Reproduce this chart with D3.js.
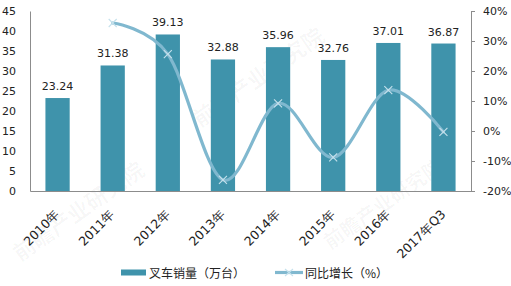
<!DOCTYPE html>
<html>
<head>
<meta charset="utf-8">
<script src="https://cdn.jsdelivr.net/npm/d3@7"></script>
<style>
  html, body { margin: 0; padding: 0; background: #fff; }
  svg { display: block; }
</style>
</head>
<body>
<svg id="chart" width="511" height="286"></svg>
<script>
const categories = ["2010年", "2011年", "2012年", "2013年", "2014年", "2015年", "2016年", "2017年Q3"];
const sales = [23.24, 31.38, 39.13, 32.88, 35.96, 32.76, 37.01, 36.87];
const growth = [null, 36.0, 25.6, -16.3, 9.2, -8.8, 13.6, -0.3];
const leftTicks = [0, 5, 10, 15, 20, 25, 30, 35, 40, 45];
const rightTicks = [-20, -10, 0, 10, 20, 30, 40];
const legendLabels = ["叉车销量（万台）", "同比增长（%）"];
const watermark = "前瞻产业研究院";

(function () {
const barColor = "#3f93ab";
const lineColor = "#80b8cf";
const markColor = "#c6e1ec";
const axisColor = "#8c8c8c";
const textColor = "#222";
const numFont = "'DejaVu Sans', Verdana, sans-serif";
const cjkFont = "'Noto Sans CJK SC', 'DejaVu Sans', sans-serif";

const svg = d3.select("#chart");
const pL = 30, pR = 471, pT = 11, pB = 191;

// faint watermark
const wm = [[200, 128, 22], [20, 262, 22], [330, 250, 20]];
svg.append("g").selectAll("text").data(wm).join("text")
  .attr("transform", d => `translate(${d[0]},${d[1]}) rotate(-35)`)
  .attr("font-family", cjkFont).attr("font-size", d => d[2]).attr("font-weight", "bold")
  .attr("fill", "#000").attr("fill-opacity", 0.035)
  .text(watermark);

const x = d3.scaleBand().domain(categories).range([pL, pR]).padding(0);
const yL = d3.scaleLinear().domain([0, 45]).range([pB, pT]);
const yR = d3.scaleLinear().domain([-20, 40]).range([pB, pT]);
const barW = x.bandwidth() * 0.44;

// bars
svg.append("g").selectAll("rect").data(categories).join("rect")
  .attr("x", d => x(d) + x.bandwidth() / 2 - barW / 2)
  .attr("y", (d, i) => yL(sales[i]))
  .attr("width", barW)
  .attr("height", (d, i) => yL(0) - yL(sales[i]))
  .attr("fill", barColor);

// value labels
svg.append("g").selectAll("text").data(categories).join("text")
  .attr("x", d => x(d) + x.bandwidth() / 2)
  .attr("y", (d, i) => yL(sales[i]) - 8)
  .attr("text-anchor", "middle")
  .attr("font-family", numFont).attr("font-size", 11).attr("fill", textColor)
  .text((d, i) => sales[i].toFixed(2));

// left axis
const gL = svg.append("g").attr("transform", `translate(${pL},0)`)
  .call(d3.axisLeft(yL).tickValues(leftTicks).tickSize(0).tickPadding(14));
gL.select(".domain").attr("stroke", axisColor);
gL.selectAll("text").attr("font-family", numFont).attr("font-size", 11).attr("fill", textColor);

// right axis
const gR = svg.append("g").attr("transform", `translate(${pR},0)`)
  .call(d3.axisRight(yR).tickValues(rightTicks).tickSize(4).tickSizeOuter(4).tickPadding(8).tickFormat(d => d + "%"));
gR.select(".domain").attr("stroke", axisColor);
gR.selectAll("line").attr("stroke", axisColor);
gR.selectAll("text").attr("font-family", numFont).attr("font-size", 11).attr("fill", textColor);

// bottom axis
const gB = svg.append("g").attr("transform", `translate(0,${pB})`)
  .call(d3.axisBottom(x).tickSize(0).tickSizeOuter(0).tickPadding(0));
gB.select(".domain").attr("stroke", axisColor);
gB.selectAll("text")
  .attr("font-family", numFont).attr("font-size", 12.5).attr("fill", textColor)
  .attr("text-anchor", "end")
  .attr("dy", 0).attr("y", 0)
  .attr("transform", "translate(3,24) rotate(-45)");

// growth line
const pts = categories.map((c, i) => [x(c) + x.bandwidth() / 2, growth[i]]).filter(p => p[1] !== null);
const line = d3.line().x(d => d[0]).y(d => yR(d[1])).curve(d3.curveCardinal.tension(0));
svg.append("path").datum(pts)
  .attr("d", line)
  .attr("fill", "none").attr("stroke", lineColor).attr("stroke-width", 3.2)
  .attr("stroke-linecap", "round");

// x markers
const m = 4;
svg.append("g").selectAll("path").data(pts).join("path")
  .attr("d", d => { const cx = d[0], cy = yR(d[1]); return `M${cx - m},${cy - m}L${cx + m},${cy + m}M${cx - m},${cy + m}L${cx + m},${cy - m}`; })
  .attr("stroke", markColor).attr("stroke-width", 1.1).attr("fill", "none");

// legend
const lg = svg.append("g");
lg.append("rect").attr("x", 121).attr("y", 269.5).attr("width", 25).attr("height", 6).attr("fill", barColor);
lg.append("text").attr("x", 149).attr("y", 277.5)
  .attr("font-family", cjkFont).attr("font-size", 12).attr("fill", textColor).text(legendLabels[0]);
lg.append("line").attr("x1", 275).attr("x2", 303).attr("y1", 272.5).attr("y2", 272.5)
  .attr("stroke", lineColor).attr("stroke-width", 3.2);
lg.append("path").attr("d", "M285,269L293,276M285,276L293,269").attr("stroke", markColor).attr("stroke-width", 1.1);
lg.append("text").attr("x", 305).attr("y", 277.5)
  .attr("font-family", cjkFont).attr("font-size", 12).attr("fill", textColor).text(legendLabels[1]);
})();
</script>
</body>
</html>
